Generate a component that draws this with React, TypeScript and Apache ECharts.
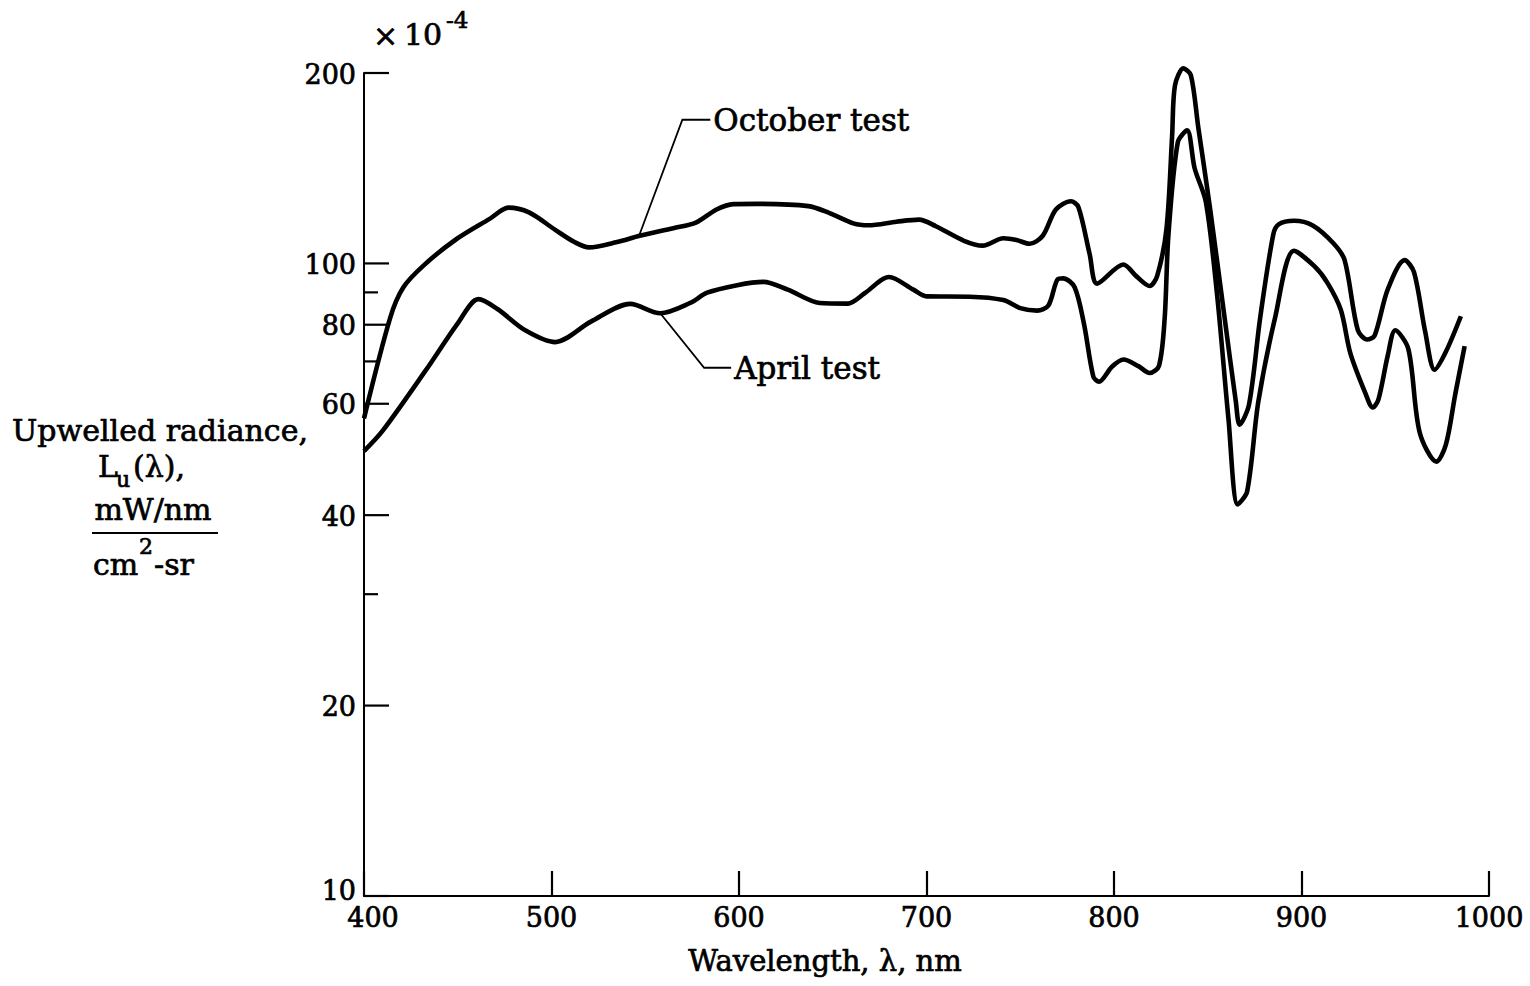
import React, { useEffect, useRef } from "react";
import * as echarts from "echarts";

// ---- data ----
const octoberWl = [
  400, 414, 421, 432, 449, 467, 477, 488, 502, 512, 520, 535, 547, 565, 577, 588, 597, 609,
  637, 648, 661, 669, 684, 696, 705, 720, 730, 741, 748, 755, 762, 769, 777, 781, 787, 791,
  805, 812, 819, 823, 828, 831, 832.5, 837, 841, 845, 851, 859, 865, 867, 872, 878, 885, 888,
  896, 906, 917, 923, 930, 935, 939, 946, 955, 960, 966, 971, 977, 985,
];
const octoberVal = [
  56.9, 82.1, 91.7, 99.4, 109.1, 117.6, 122.5, 120.4, 113.0, 108.2, 106.0, 108.1, 110.6, 113.7,
  116.0, 121.7, 124.1, 124.2, 123.2, 120.2, 115.7, 114.9, 116.4, 117.3, 114.5, 108.6, 106.7,
  109.6, 108.9, 107.4, 110.6, 121.7, 125.4, 122.8, 103.5, 92.9, 99.6, 95.4, 92.1, 95.5, 113.5,
  159.2, 191.0, 203.4, 198.4, 163.6, 123.6, 82.0, 60.4, 55.6, 59.8, 82.2, 111.3, 115.4, 116.8,
  114.8, 107.6, 101.2, 78.5, 75.8, 76.9, 91.0, 101.2, 96.9, 77.9, 67.9, 72.5, 82.5,
];
const aprilWl = [
  400, 410, 433, 450, 461, 471, 486, 502, 521, 542, 558, 574, 583, 599, 613, 626, 643, 658,
  667, 680, 693, 700, 723, 741, 750, 759, 765, 770, 773, 779, 784, 789, 792, 799, 805, 813,
  819, 824, 827, 829, 834, 839, 843, 849, 855, 861, 866, 871, 877, 886, 896, 907, 914, 921,
  926, 934, 938, 941, 946, 950, 957, 963, 972, 977, 982, 987,
];
const aprilVal = [
  50.5, 54.4, 67.8, 80.4, 87.8, 84.8, 78.4, 75.1, 80.9, 86.3, 83.4, 86.6, 89.9, 92.4, 93.5,
  90.9, 86.6, 86.4, 89.7, 95.2, 90.9, 88.7, 88.6, 87.5, 85.0, 84.2, 85.8, 94.4, 94.7, 91.7,
  80.2, 66.2, 65.0, 68.7, 70.5, 68.8, 67.1, 68.9, 81.7, 110.6, 155.3, 162.3, 141.4, 125.0,
  89.1, 57.0, 41.6, 43.6, 60.5, 82.3, 104.7, 98.9, 93.0, 84.4, 72.2, 62.4, 59.2, 60.9, 71.5,
  78.4, 73.2, 54.1, 48.6, 51.7, 62.1, 74.0,
];
const xTickValues = [400, 500, 600, 700, 800, 900, 1000];
const yMajorTicks = [10, 20, 40, 60, 80, 100, 200];
const yMinorTicks = [30, 70, 90];
const octoberLeaderWl = [546.7, 569.8, 584.7];
const octoberLeaderVal = [110.6, 168.7, 168.7];
const aprilLeaderWl = [558, 581.4, 595.8];
const aprilLeaderVal = [83.4, 68.4, 68.4];
const octoberLabel = "October test";
const aprilLabel = "April test";

const FONT = "DejaVu Serif";
const INK = "#000";
const TEXT_STROKE = 0.7;

export default function App() {
  const ref = useRef<HTMLDivElement>(null);

  useEffect(() => {
    const chart = echarts.init(ref.current!, null, { renderer: "svg", width: 1530, height: 986 });
    const zip = (a: number[], b: number[]) => a.map((x, i) => [x, b[i]]);

    chart.setOption({
      animation: false,
      backgroundColor: "#fff",
      grid: { left: 364, right: 41, top: 73, bottom: 90, containLabel: false },
      xAxis: {
        type: "value",
        min: 400,
        max: 1000,
        interval: 100,
        axisLine: { show: true, onZero: false, lineStyle: { color: INK, width: 2 } },
        axisTick: { show: true, inside: true, length: 25, lineStyle: { color: INK, width: 2.2 } },
        splitLine: { show: false },
        axisLabel: {
          show: true,
          color: INK,
          fontFamily: FONT,
          fontSize: 27,
          margin: 8,
          textBorderColor: INK,
          textBorderWidth: TEXT_STROKE,
          showMinLabel: true,
          showMaxLabel: true,
          formatter: (v: number) => (v === xTickValues[0] ? "{p|" + v + "}" : String(v)),
          rich: {
            p: {
              padding: [0, 0, 0, 18],
              fontFamily: FONT,
              fontSize: 27,
              color: INK,
              textBorderColor: INK,
              textBorderWidth: TEXT_STROKE,
            },
          },
        },
      },
      yAxis: {
        type: "log",
        logBase: 10,
        min: 10,
        max: 200,
        axisLine: { show: true, onZero: false, lineStyle: { color: INK, width: 2 } },
        axisTick: { show: false },
        minorTick: { show: false },
        axisLabel: { show: false },
        splitLine: { show: false },
      },
      series: [
        {
          name: octoberLabel,
          type: "line",
          data: zip(octoberWl, octoberVal),
          smooth: 0.3,
          symbol: "none",
          clip: false,
          lineStyle: { color: INK, width: 4.6 },
        },
        {
          name: aprilLabel,
          type: "line",
          data: zip(aprilWl, aprilVal),
          smooth: 0.3,
          symbol: "none",
          clip: false,
          lineStyle: { color: INK, width: 4.6 },
        },
      ],
    });

    const px = (x: number, y: number) => chart.convertToPixel({ gridIndex: 0 }, [x, y]) as number[];
    const x0 = px(400, 100)[0];
    const g: any[] = [];

    const txt = (text: string, x: number, y: number, size: number, align = "left") => ({
      type: "text",
      style: {
        text,
        x,
        y,
        textAlign: align,
        textVerticalAlign: "middle",
        fontFamily: FONT,
        fontSize: size,
        fill: INK,
        stroke: INK,
        lineWidth: TEXT_STROKE,
      },
    });

    yMajorTicks.forEach((v) => {
      const y = px(400, v)[1];
      g.push({ type: "line", shape: { x1: x0, y1: y, x2: x0 + 25, y2: y }, style: { stroke: INK, lineWidth: 2.2 } });
      g.push(txt(String(v), x0 - 8, v === 10 ? y - 6 : y + 1, 27, "right"));
    });
    yMinorTicks.forEach((v) => {
      const y = px(400, v)[1];
      g.push({ type: "line", shape: { x1: x0, y1: y, x2: x0 + 14, y2: y }, style: { stroke: INK, lineWidth: 2.2 } });
    });

    const leader = (wl: number[], val: number[], label: string) => {
      const pts = wl.map((w, i) => px(w, val[i]));
      g.push({ type: "polyline", shape: { points: pts }, style: { stroke: INK, lineWidth: 1.8, fill: null } });
      const end = pts[pts.length - 1];
      g.push(txt(label, end[0] + 3, end[1], 31, "left"));
    };
    leader(octoberLeaderWl, octoberLeaderVal, octoberLabel);
    leader(aprilLeaderWl, aprilLeaderVal, aprilLabel);

    // y-axis title
    g.push(txt("Upwelled radiance,", 160, 430, 30, "center"));
    g.push(txt("L", 98, 466, 30));
    g.push(txt("u", 116, 479, 22));
    g.push(txt("(λ),", 133, 466, 30));
    g.push(txt("mW/nm", 153, 509, 30, "center"));
    g.push({ type: "line", shape: { x1: 92, y1: 533, x2: 218, y2: 533 }, style: { stroke: INK, lineWidth: 2 } });
    g.push(txt("cm", 93, 564, 30));
    g.push(txt("2", 139, 546, 22));
    g.push(txt("-sr", 154, 564, 30));

    // scale factor
    g.push(txt("×", 373, 35, 30));
    g.push(txt("10", 404, 34, 30));
    g.push(txt("-4", 446, 20, 23));

    // x-axis title
    g.push(txt("Wavelength, λ, nm", 825, 961, 29, "center"));

    chart.setOption({ graphic: g });

    return () => chart.dispose();
  }, []);

  return (
    <div
      ref={ref}
      style={{ position: "fixed", left: 0, top: 0, width: 1530, height: 986, background: "#fff" }}
    />
  );
}
